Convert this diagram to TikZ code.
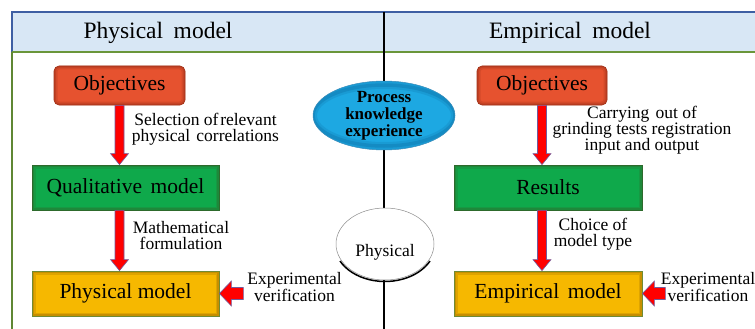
\documentclass[tikz,border=0pt]{standalone}
\usepackage{fontspec}
\setmainfont{Liberation Serif}
\usetikzlibrary{calc,shapes.geometric}
\definecolor{hdrfill}{HTML}{D8E7F5}
\definecolor{hdrblue}{HTML}{3E5FA3}
\definecolor{hdrgreen}{HTML}{6A963A}
\definecolor{objfill}{HTML}{E6522F}
\definecolor{objedge}{HTML}{9E3118}
\definecolor{grnfill}{HTML}{0FA94B}
\definecolor{grnedge}{HTML}{2D6A2C}
\definecolor{yelfill}{HTML}{F6B800}
\definecolor{yeledge}{HTML}{6F8B36}
\definecolor{yelglow}{HTML}{9A6A00}
\definecolor{arrred}{HTML}{FF0000}
\definecolor{arredge}{HTML}{6F5C9E}
\definecolor{ellfill}{HTML}{1DA8E2}
\definecolor{elledge}{HTML}{0D6FA6}
\tikzset{
  x=1pt, y=1pt,
  boxbase/.style={rectangle, inner sep=0pt, font=\fontsize{21.5}{23}\selectfont, text=black},
  glow/.style={path picture={
     \draw[line width=7pt, #1, opacity=.25] (path picture bounding box.south west) rectangle (path picture bounding box.north east);
     \draw[line width=3.5pt, #1, opacity=.35] (path picture bounding box.south west) rectangle (path picture bounding box.north east);}},
  ellglow/.style={path picture={
     \draw[line width=8pt, elledge, opacity=.22] (path picture bounding box.center) ellipse [x radius=71, y radius=30.5];
     \draw[line width=3.5pt, elledge, opacity=.35] (path picture bounding box.center) ellipse [x radius=71, y radius=30.5];}},
  objbox/.style={boxbase, rounded corners=5pt, fill=objfill, draw=objedge, line width=0.6pt, glow=objedge, minimum width=131, minimum height=39},
  grnbox/.style={boxbase, fill=grnfill, draw=grnedge, line width=0.8pt, glow=grnedge, minimum width=187, minimum height=45},
  yelbox/.style={boxbase, fill=yelfill, draw=yeledge, line width=0.8pt, glow=yelglow, minimum width=187, minimum height=45},
  lbl/.style={align=center, inner sep=0pt, font=\fontsize{17.5}{16}\selectfont},
  hdr/.style={anchor=base, inner sep=0pt, font=\fontsize{23.5}{25}\selectfont},
  blockarr/.style={fill=arrred, draw=arredge, line width=0.6pt, line join=miter},
}
\newcommand{\downarr}[2]{%
  \draw[blockarr] ($(#1)+(-4.5,0)$) -- ($(#2)+(-4.5,11)$) -- ($(#2)+(-9,11)$) -- (#2)
    -- ($(#2)+(9,11)$) -- ($(#2)+(4.5,11)$) -- ($(#1)+(4.5,0)$) -- cycle;}
\newcommand{\leftarr}[2]{%
  \draw[blockarr] ($(#1)+(0,6)$) -- ($(#2)+(12,6)$) -- ($(#2)+(12,12.5)$) -- (#2)
    -- ($(#2)+(12,-12.5)$) -- ($(#2)+(12,-6)$) -- ($(#1)+(0,-6)$) -- cycle;}
\begin{document}
\begin{tikzpicture}
\useasboundingbox (0,0) rectangle (755,-329);
% header band
\fill[hdrfill] (12,-12) rectangle (755,-52);
\draw[hdrblue, line width=1.2pt] (755,-12) -- (12,-12) -- (12,-52);
\draw[hdrgreen, line width=1.4pt] (12,-52) -- (755,-52);
\draw[hdrgreen!90!black, line width=1.4pt] (12,-52) -- (12,-329);
\node[hdr] (hL) at (158,-39) {Physical\hspace{0.45em}model};
\node[hdr] (hR) at (570,-39) {Empirical\hspace{0.45em}model};
% divider
\draw[black, line width=1.1pt] (384,-12) -- (384,-329);

% boxes
\node[objbox] (objL) at (119.5,-85.5) {Objectives};
\node[objbox, minimum width=130] (objR) at (542,-85.5) {Objectives};
\node[grnbox] (qualL) at (125.5,-187.5) {Qualitative\hspace{0.4em}model};
\node[grnbox, minimum width=188] (resR) at (548,-187.5) {Results};
\node[yelbox] (physL) at (125.5,-293.5) {Physical model};
\node[yelbox, minimum width=188] (empR) at (548,-293.5) {Empirical\hspace{0.4em}model};

% central ellipses
\node[ellipse, minimum width=142, minimum height=61, inner sep=0pt,
      draw=elledge!80, line width=0.5pt, fill=ellfill, ellglow,
      align=center, font=\bfseries\fontsize{17}{17}\selectfont] (proc) at (384,-115.5)
      {Process\\knowledge\\experience};
\node[ellipse, minimum width=98, minimum height=72, inner sep=0pt,
      draw=black!45, line width=0.5pt, fill=white] (phys) at (385,-244) {};
\node[inner sep=0pt, font=\fontsize{17.5}{18}\selectfont] (physT) at ($(phys.center)+(0,-8)$) {Physical};
\draw[black, line width=1.5pt] ($(phys.center)+(207:50.5 and 37.5)$)
   arc[start angle=207, end angle=333, x radius=50.5, y radius=37.5];

% vertical arrows
\downarr{objL.south}{objL.south |- qualL.north}
\downarr{objL.south |- qualL.south}{objL.south |- physL.north}
\downarr{objR.south}{objR.south |- resR.north}
\downarr{objR.south |- resR.south}{objR.south |- empR.north}
% horizontal arrows
\coordinate (expLc) at ($(physL.east)+(24,0)$);
\coordinate (expRc) at ($(empR.east)+(23,0)$);
\leftarr{expLc}{physL.east}
\leftarr{expRc}{empR.east}

% labels
\node[lbl] (l1) at (205.5,-129) {Selection of\hspace{0.1em}relevant\\physical\hspace{0.35em}correlations};
\node[lbl] (l2) at (181,-236) {Mathematical\\formulation};
\node[lbl] (l3) at (294.5,-287) {Experimental\\verification};
\node[lbl] (r1) at (642,-130) {Carrying\hspace{0.35em}out of\\grinding tests registration\\input and output};
\node[lbl] (r2) at (593,-234) {Choice of\\model type};
\node[lbl] (r3) at (708,-287) {Experimental\\verification};
\end{tikzpicture}
\end{document}
